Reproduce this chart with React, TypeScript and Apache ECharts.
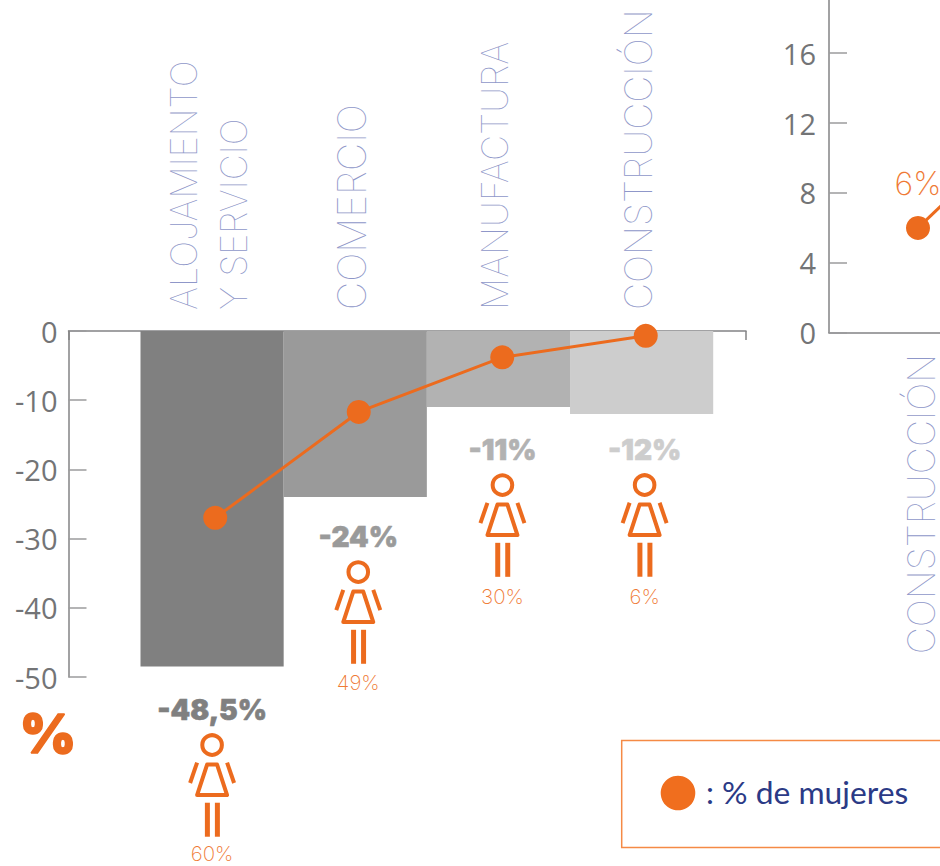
import React, { useEffect, useRef } from "react";
import * as echarts from "echarts";

// ---- data ----
const sectors = ["ALOJAMIENTO\nY SERVICIO", "COMERCIO", "MANUFACTURA", "CONSTRUCCIÓN"];
const employmentChange = [-48.5, -24, -11, -12];
const changeLabels = ["-48,5%", "-24%", "-11%", "-12%"];
const womenShareLabels = ["60%", "49%", "30%", "6%"];
const womenLine = [-27, -11.7, -3.8, -0.7];
const barColors = ["#808080", "#9a9a9a", "#b2b2b2", "#cdcdcd"];
const rightSectors = ["CONSTRUCCIÓN", ""];
const rightValues = [6, 13.8];
const rightLabels = ["6%", ""];

// ---- layout / style constants ----
const ORANGE = "#ec6b1e";
const AXIS = "#838385";
const TICKTXT = "#737476";
const CATTXT = "#8f97c9";
const THIN = "Inter";
const iconDx = [0, 3, 4, 3];
const iconDy = [78.4, 75, 78, 71];
const shareDy = [108.5, 110, 111, 111];

const L_TOP = 331;
const L_H = 346;
const R_ZERO = 332.7;
const R_H = 349.4;

const hidden = { show: false };

function axisText(margin: number) {
  return { color: TICKTXT, fontFamily: "Open Sans", fontSize: 29, margin, padding: [5, 0, 0, 0] };
}

function leftY(gridIndex: number, visible: boolean) {
  return {
    type: "value",
    gridIndex,
    min: -50,
    max: 0,
    interval: 10,
    show: visible,
    splitLine: hidden,
    axisLine: { show: true, onZero: false, lineStyle: { color: AXIS, width: 1.5 } },
    axisTick: { show: true, inside: true, length: 18, lineStyle: { color: "#9b9b9d", width: 1.5 } },
    axisLabel: axisText(11),
  };
}

function catAxis(gridIndex: number, data: string[], position: string, showLabels: boolean) {
  return {
    type: "category",
    gridIndex,
    data,
    position,
    axisLine: hidden,
    axisTick: hidden,
    splitLine: hidden,
    axisLabel: showLabels
      ? {
          show: true,
          interval: 0,
          rotate: 90,
          margin: 21,
          color: CATTXT,
          fontFamily: THIN,
          fontWeight: 100,
          fontSize: 36,
          lineHeight: 50,
          hideOverlap: false,
          formatter: (v: string) =>
            v === "COMERCIO" ? `{wide|${v}}` : v === "CONSTRUCCIÓN" ? `{mid|${v}}` : v,
          rich: {
            wide: { color: CATTXT, fontFamily: THIN, fontWeight: 100, fontSize: 39, lineHeight: 50 },
            mid: { color: CATTXT, fontFamily: THIN, fontWeight: 100, fontSize: 37.5, lineHeight: 36 },
          },
        }
      : hidden,
  };
}

function renderPerson(params: any, api: any) {
  const i = params.dataIndex;
  const p = api.coord([api.value(0), api.value(1)]);
  const cx = p[0] + iconDx[i];
  const cy = p[1] + iconDy[i];
  const stroke = { stroke: ORANGE, lineWidth: 4, fill: "none" };
  return {
    type: "group",
    children: [
      {
        type: "text",
        style: {
          text: changeLabels[i],
          x: cx,
          y: cy - 35.5,
          align: "center",
          verticalAlign: "middle",
          fill: barColors[i],
          stroke: barColors[i],
          lineWidth: 0.6,
          font: "900 28px Inter",
        },
      },
      { type: "circle", shape: { cx, cy, r: 9.8 }, style: stroke },
      {
        type: "polygon",
        shape: {
          points: [
            [cx - 5, cy + 19.5],
            [cx + 5, cy + 19.5],
            [cx + 15, cy + 50],
            [cx - 15, cy + 50],
          ],
        },
        style: { ...stroke, lineJoin: "round" },
      },
      { type: "line", shape: { x1: cx - 15, y1: cy + 17.7, x2: cx - 22, y2: cy + 38 }, style: stroke },
      { type: "line", shape: { x1: cx + 15, y1: cy + 17.7, x2: cx + 22, y2: cy + 38 }, style: stroke },
      { type: "rect", shape: { x: cx - 7.2, y: cy + 57.7, width: 5, height: 34 }, style: { fill: ORANGE } },
      { type: "rect", shape: { x: cx + 2.8, y: cy + 57.7, width: 5, height: 34 }, style: { fill: ORANGE } },
      {
        type: "text",
        style: {
          text: womenShareLabels[i],
          x: cx,
          y: cy + shareDy[i],
          align: "center",
          verticalAlign: "middle",
          fill: "#ef7a35",
          font: "200 20.5px Inter",
        },
      },
    ],
  };
}

export default function App() {
  const ref = useRef<HTMLDivElement>(null);
  useEffect(() => {
    const chart = echarts.init(ref.current!, undefined, { renderer: "svg" });
    const grid = (left: number, width: number, top: number, height: number) => ({
      left,
      width,
      top,
      height,
      outerBoundsMode: "none",
    });
    chart.setOption({
      animation: false,
      backgroundColor: "#ffffff",
      grid: [
        grid(68.5, 677.5, L_TOP, L_H), // 0 left frame
        grid(140.5, 572.7, L_TOP, L_H), // 1 bars
        grid(143.5, 574, L_TOP, L_H), // 2 women line
        grid(137, 573, L_TOP, L_H), // 3 sector names
        grid(829, 400, R_ZERO - R_H, R_H), // 4 right frame
        grid(846.5, 286, R_ZERO - R_H, R_H), // 5 right line
        grid(850, 286, R_ZERO - R_H, R_H), // 6 right names
      ],
      xAxis: [
        {
          type: "value",
          gridIndex: 0,
          min: 0,
          max: 1,
          interval: 1,
          position: "top",
          splitLine: hidden,
          axisLabel: hidden,
          axisLine: { show: true, onZero: false, lineStyle: { color: AXIS, width: 1.5 } },
          axisTick: { show: true, inside: true, length: 9, lineStyle: { color: AXIS, width: 1.5 } },
        },
        catAxis(1, sectors, "top", false),
        catAxis(2, sectors, "top", false),
        catAxis(3, sectors, "top", true),
        {
          type: "value",
          gridIndex: 4,
          min: 0,
          max: 1,
          interval: 1,
          position: "bottom",
          splitLine: hidden,
          axisLabel: hidden,
          axisTick: hidden,
          axisLine: { show: true, onZero: false, lineStyle: { color: AXIS, width: 1.5 } },
        },
        catAxis(5, rightSectors, "bottom", false),
        catAxis(6, rightSectors, "bottom", true),
      ],
      yAxis: [
        leftY(0, true),
        leftY(1, false),
        leftY(2, false),
        leftY(3, false),
        {
          type: "value",
          gridIndex: 4,
          min: 0,
          max: 20,
          interval: 4,
          splitLine: hidden,
          axisLine: { show: true, onZero: false, lineStyle: { color: AXIS, width: 1.5 } },
          axisTick: { show: true, inside: true, length: 18, lineStyle: { color: "#9b9b9d", width: 1.5 } },
          axisLabel: { ...axisText(13), showMaxLabel: false },
        },
        { type: "value", gridIndex: 5, min: 0, max: 20, interval: 4, show: false },
        { type: "value", gridIndex: 6, min: 0, max: 20, interval: 4, show: false },
      ],
      series: [
        {
          type: "bar",
          xAxisIndex: 1,
          yAxisIndex: 1,
          barWidth: "100%",
          silent: true,
          data: employmentChange.map((value, i) => ({ value, itemStyle: { color: barColors[i] } })),
        },
        {
          type: "line",
          xAxisIndex: 2,
          yAxisIndex: 2,
          data: womenLine,
          symbol: "circle",
          symbolSize: 24,
          silent: true,
          z: 5,
          lineStyle: { color: ORANGE, width: 3 },
          itemStyle: { color: ORANGE },
        },
        {
          type: "custom",
          xAxisIndex: 1,
          yAxisIndex: 1,
          silent: true,
          clip: false,
          data: employmentChange.map((v, i) => [i, v]),
          encode: { x: 0, y: 1 },
          renderItem: renderPerson,
        },
        {
          type: "line",
          xAxisIndex: 5,
          yAxisIndex: 5,
          data: rightValues,
          symbol: "circle",
          symbolSize: 24,
          silent: true,
          clip: false,
          lineStyle: { color: ORANGE, width: 3 },
          itemStyle: { color: ORANGE },
          label: {
            show: true,
            position: "top",
            distance: 16,
            formatter: (p: any) => rightLabels[p.dataIndex],
            color: "#ef7a35",
            fontFamily: THIN,
            fontWeight: 200,
            fontSize: 32,
          },
        },
        { type: "bar", xAxisIndex: 6, yAxisIndex: 6, data: [0, 0], silent: true, itemStyle: { opacity: 0 } },
        { type: "line", xAxisIndex: 3, yAxisIndex: 3, data: [0, 0, 0, 0], silent: true, showSymbol: false, lineStyle: { opacity: 0 } },
      ],
      graphic: [
        {
          type: "text",
          x: 48,
          y: 733,
          style: {
            text: "%",
            align: "center",
            verticalAlign: "middle",
            fill: ORANGE,
            stroke: ORANGE,
            lineWidth: 1.5,
            font: "900 54px Inter",
          },
        },
        {
          type: "rect",
          shape: { x: 621.7, y: 740.5, width: 400, height: 107 },
          style: { fill: "none", stroke: "#f58a45", lineWidth: 1.5 },
        },
        { type: "circle", shape: { cx: 678, cy: 793, r: 17.3 }, style: { fill: "#f06e1e" } },
        {
          type: "text",
          x: 706,
          y: 792,
          style: {
            text: ": % de mujeres",
            verticalAlign: "middle",
            fill: "#2b3a86",
            font: "400 31.8px Lato",
          },
        },
      ],
    });
    return () => chart.dispose();
  }, []);
  return (
    <div
      ref={ref}
      style={{ position: "absolute", left: 0, top: 0, width: 940, height: 866, overflow: "hidden" }}
    />
  );
}
